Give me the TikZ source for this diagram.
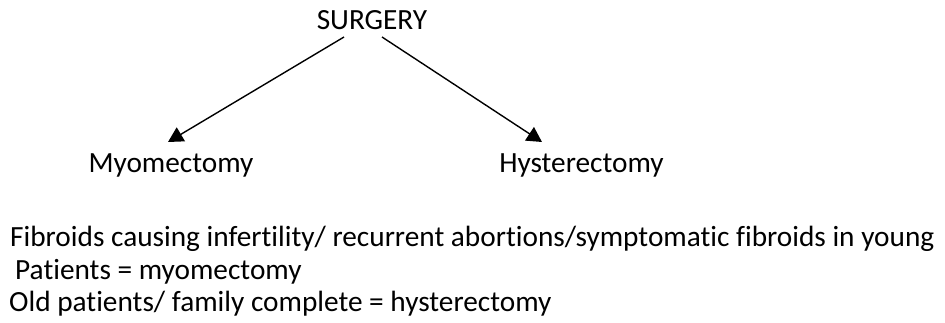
\documentclass[tikz,border=0pt]{standalone}
\usepackage{fontspec}
\setmainfont[Ligatures={NoCommon}]{Carlito}
\usetikzlibrary{arrows.meta}
\begin{document}
\begin{tikzpicture}[x=1pt,y=-1pt,
  lbl/.style={inner sep=0pt,anchor=base,font=\fontsize{29.3}{35}\selectfont},
  txt/.style={inner sep=0pt,anchor=base west,font=\fontsize{29.3}{35}\selectfont},
  link/.style={line width=1.4pt,-{Triangle[length=15pt,width=16pt]}}]
\useasboundingbox (0,0) rectangle (945,323);
% tree of choices
\node[lbl] (surg) at (372,30) {SURGERY};
\node[lbl] (myo) at (171,173) {Myomectomy};
\node[lbl] (hys) at (581.5,173) {Hysterectomy};
\coordinate (sL) at (344,37);
\coordinate (sR) at (382,37);
\coordinate (mT) at (168,142);
\coordinate (hT) at (542,142);
\draw[link] (sL) -- (mT);
\draw[link] (sR) -- (hT);
% notes below
\node[txt] (n1) at (10,247) {Fibroids causing infertility/ recurrent abortions/symptomatic fibroids in young};
\node[txt] (n2) at (15,279) {Patients = myomectomy};
\node[txt] (n3) at (9,311) {Old patients/ family complete = hysterectomy};
\end{tikzpicture}
\end{document}
